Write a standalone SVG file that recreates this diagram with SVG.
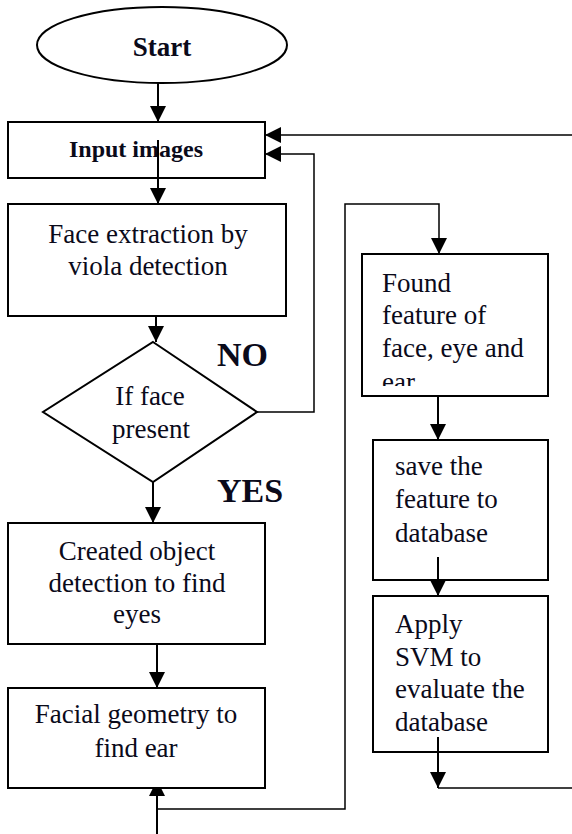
<svg xmlns="http://www.w3.org/2000/svg" width="572" height="834" viewBox="0 0 572 834">
<defs>
<marker id="ah" viewBox="0 0 10 10" refX="10" refY="5" markerWidth="16" markerHeight="16" markerUnits="userSpaceOnUse" orient="auto">
<path d="M0,0 L10,5 L0,10 z" fill="#000"/>
</marker>
<clipPath id="foundClip"><rect x="363" y="255" width="184" height="131"/></clipPath>
</defs>
<style>
.box{fill:#fff;stroke:#000;stroke-width:2}
.t{font-family:"Liberation Serif","Times New Roman",serif;font-size:27px;fill:#0a0a1a}
.c{text-anchor:middle}
.b{font-weight:bold}
.ln{fill:none;stroke:#000;stroke-width:2}
.lt{fill:none;stroke:#000;stroke-width:1.5}
</style>
<rect width="572" height="834" fill="#fff"/>
<g id="connectors">
<line class="ln" x1="158" y1="83" x2="158" y2="122" marker-end="url(#ah)"/>
<line class="ln" x1="156" y1="305" x2="156" y2="342" marker-end="url(#ah)"/>
<line class="ln" x1="153" y1="482" x2="153" y2="523" marker-end="url(#ah)"/>
<line class="ln" x1="157" y1="640" x2="157" y2="688" marker-end="url(#ah)"/>
<line class="ln" x1="157" y1="834" x2="157" y2="780" marker-end="url(#ah)"/>
<polyline class="lt" points="157,809 345,809 345,204 439,204 439,254" marker-end="url(#ah)"/>
<line class="ln" x1="438" y1="396" x2="438" y2="440" marker-end="url(#ah)"/>
<line class="ln" x1="438" y1="557" x2="438" y2="596" marker-end="url(#ah)"/>
<line class="ln" x1="438" y1="737" x2="438" y2="788" marker-end="url(#ah)"/>
<line class="lt" x1="438" y1="788" x2="572" y2="788"/>
<line class="lt" x1="572" y1="135" x2="265" y2="135" marker-end="url(#ah)"/>
<polyline class="lt" points="257,412 314,412 314,154 265,154" marker-end="url(#ah)"/>
</g>
<g id="start">
<ellipse class="box" cx="162" cy="45" rx="125" ry="38"/>
<text class="t c b" x="162" y="56">Start</text>
</g>
<g id="input">
<rect class="box" x="8" y="122" width="257" height="56"/>
<text class="t c b" x="136" y="157" style="font-size:24px">Input images</text>
<line class="ln" x1="158" y1="140" x2="158" y2="204" marker-end="url(#ah)"/>
</g>
<g id="face">
<rect class="box" x="8" y="204" width="278" height="112"/>
<text class="t c" x="148" y="243">Face extraction by</text>
<text class="t c" x="148" y="275">viola detection</text>
</g>
<g id="decision">
<polygon class="box" points="153,342 257,412 153,482 43,412"/>
<text class="t c" x="150" y="405">If face</text>
<text class="t c" x="151" y="438">present</text>
</g>
<g id="labels">
<text class="t b" x="217" y="366" style="font-size:34px">NO</text>
<text class="t b" x="217" y="502" style="font-size:34px">YES</text>
</g>
<g id="created">
<rect class="box" x="8" y="523" width="257" height="121"/>
<text class="t c" x="137" y="560">Created object</text>
<text class="t c" x="137" y="592">detection to find</text>
<text class="t c" x="137" y="623">eyes</text>
</g>
<g id="facial">
<rect class="box" x="8" y="688" width="257" height="100"/>
<text class="t c" x="136" y="723">Facial geometry to</text>
<text class="t c" x="136" y="757">find ear</text>
</g>
<g id="found">
<rect class="box" x="362" y="254" width="186" height="142"/>
<g clip-path="url(#foundClip)">
<text class="t" x="382" y="292">Found</text>
<text class="t" x="382" y="324">feature of</text>
<text class="t" x="382" y="357">face, eye and</text>
<text class="t" x="382" y="391">ear</text>
</g>
</g>
<g id="save">
<rect class="box" x="373" y="440" width="175" height="140"/>
<text class="t" x="395" y="475">save the</text>
<text class="t" x="395" y="508">feature to</text>
<text class="t" x="395" y="542">database</text>
<line class="ln" x1="438" y1="557" x2="438" y2="580"/>
</g>
<g id="apply">
<rect class="box" x="373" y="596" width="175" height="156"/>
<text class="t" x="395" y="633">Apply</text>
<text class="t" x="395" y="666">SVM to</text>
<text class="t" x="395" y="698">evaluate the</text>
<text class="t" x="395" y="731">database</text>
<line class="ln" x1="438" y1="737" x2="438" y2="752"/>
</g>
</svg>
